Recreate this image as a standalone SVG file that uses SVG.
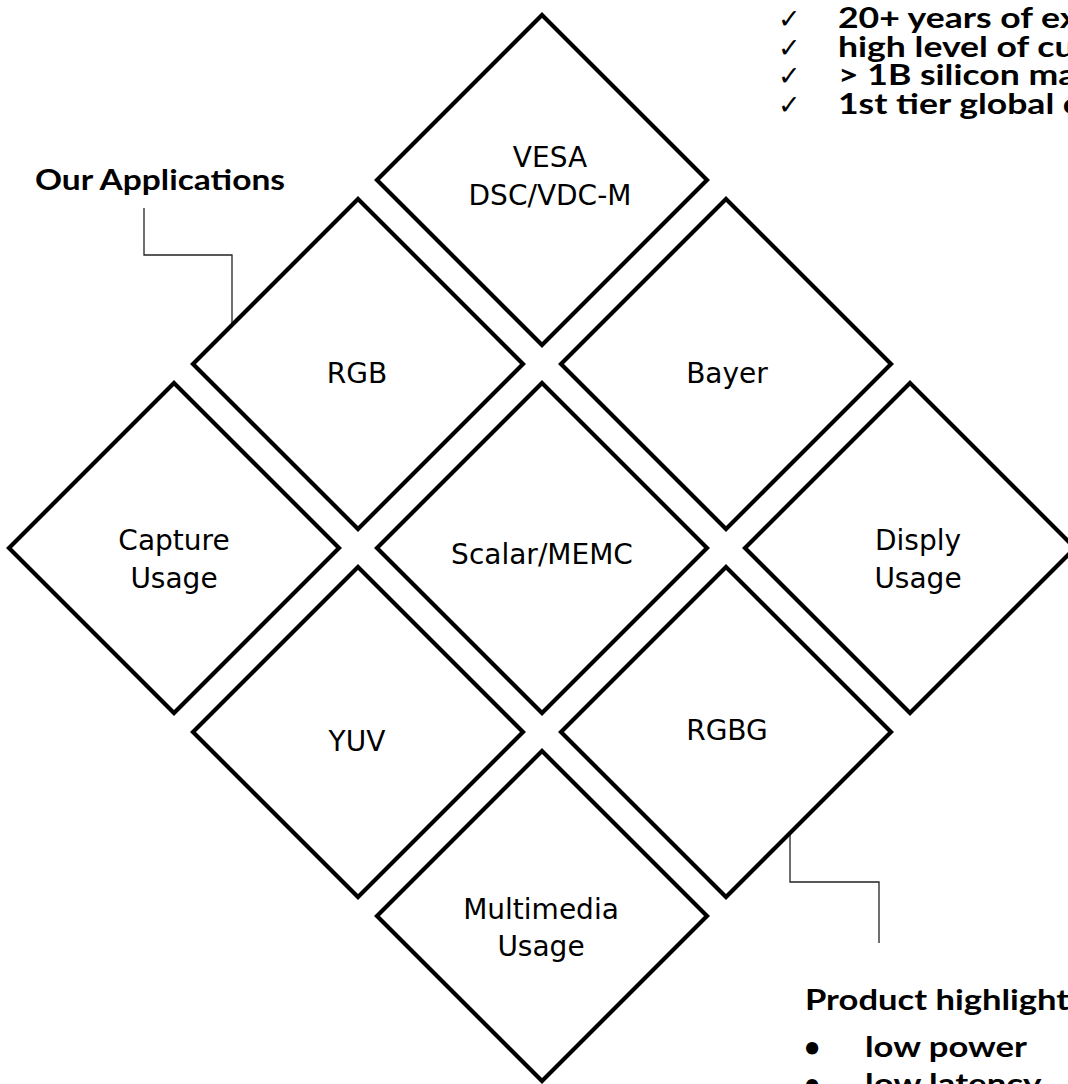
<svg xmlns="http://www.w3.org/2000/svg" width="1068" height="1084" viewBox="0 0 1068 1084">
<style>
.dia{fill:none;stroke:#000;stroke-width:4.2;stroke-linejoin:miter}
.lbl{font-family:"DejaVu Sans","Noto Sans",sans-serif;font-size:28px;fill:#000;text-anchor:middle}
.bold{font-family:Lato,"Open Sans",sans-serif;font-weight:bold;font-size:28px;fill:#000}
.chk{font-family:"DejaVu Sans",sans-serif;font-size:27px;fill:#000}
.call{fill:none;stroke:#222;stroke-width:1.3}
</style>
<defs>
<path id="d" d="M0,-165 L165,0 L0,165 L-165,0 Z"/>
</defs>
<rect width="1068" height="1084" fill="#fff"/>
<g id="connectors">
<polyline class="call" points="144,208 144,255 232,255 232,323"/>
<polyline class="call" points="790,833 790,882 879,882 879,943"/>
</g>
<g id="vesa"><use href="#d" class="dia" x="542" y="180"/><text class="lbl" x="550" y="167">VESA</text><text class="lbl" x="550" y="205">DSC/VDC-M</text></g>
<g id="rgb"><use href="#d" class="dia" x="358" y="364"/><text class="lbl" x="357" y="383">RGB</text></g>
<g id="bayer"><use href="#d" class="dia" x="726" y="364"/><text class="lbl" x="727" y="383">Bayer</text></g>
<g id="capture"><use href="#d" class="dia" x="174" y="548"/><text class="lbl" x="174" y="550">Capture</text><text class="lbl" x="174" y="588">Usage</text></g>
<g id="scalar"><use href="#d" class="dia" x="542" y="548"/><text class="lbl" x="542" y="564">Scalar/MEMC</text></g>
<g id="disply"><use href="#d" class="dia" x="910" y="548"/><text class="lbl" x="918" y="550">Disply</text><text class="lbl" x="918" y="588">Usage</text></g>
<g id="yuv"><use href="#d" class="dia" x="358" y="732"/><text class="lbl" x="357" y="751">YUV</text></g>
<g id="rgbg"><use href="#d" class="dia" x="726" y="732"/><text class="lbl" x="727" y="740">RGBG</text></g>
<g id="multimedia"><use href="#d" class="dia" x="542" y="916"/><text class="lbl" x="541" y="919">Multimedia</text><text class="lbl" x="541" y="956">Usage</text></g>
<g id="our-applications"><text class="bold" x="35" y="190" textLength="250" lengthAdjust="spacingAndGlyphs">Our Applications</text></g>
<g id="top-list">
<text class="chk" x="778" y="28">✓</text><g transform="translate(838,28) scale(1.27,1)"><text class="bold">20+ years of ex</text></g>
<text class="chk" x="778" y="57">✓</text><g transform="translate(838,57) scale(1.27,1)"><text class="bold">high level of cu</text></g>
<text class="chk" x="778" y="85">✓</text><g transform="translate(838,85) scale(1.27,1)"><text class="bold">&gt; 1B silicon ma</text></g>
<text class="chk" x="778" y="114">✓</text><g transform="translate(838,114) scale(1.27,1)"><text class="bold">1st tier global c</text></g>
</g>
<g id="product-highlight">
<g transform="translate(805,1010) scale(1.235,1)"><text class="bold">Product highlight</text></g>
<text class="bold" x="804" y="1057">•</text><text class="bold" x="865" y="1057" textLength="162" lengthAdjust="spacingAndGlyphs">low power</text>
<text class="bold" x="804" y="1094">•</text><g transform="translate(865,1094) scale(1.245,1)"><text class="bold">low latency</text></g>
</g>
</svg>
